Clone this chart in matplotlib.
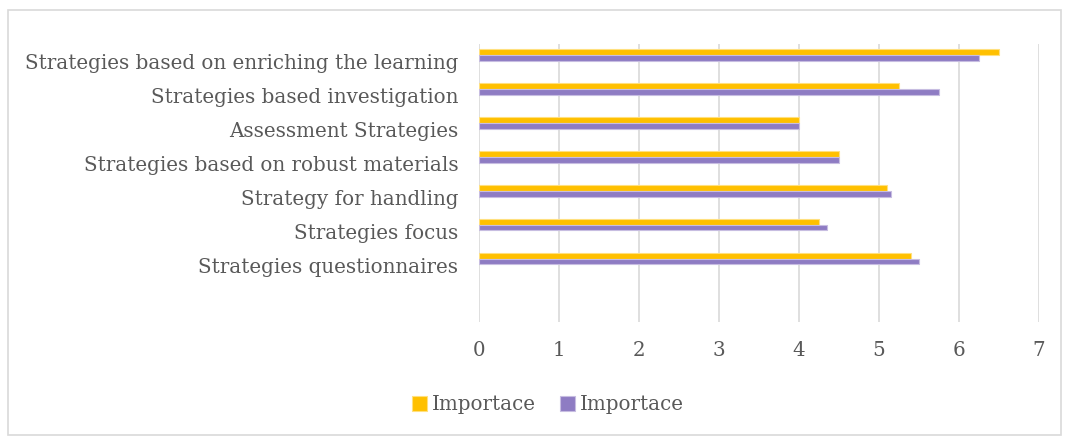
import numpy as np
import matplotlib
matplotlib.use("Agg")
import matplotlib.pyplot as plt
from matplotlib.patches import Rectangle

categories = ["Strategies based on enriching the learning",
              "Strategies based investigation",
              "Assessment Strategies",
              "Strategies based on robust materials",
              "Strategy for handling",
              "Strategies focus",
              "Strategies questionnaires"]
series_a = [6.5, 5.25, 4.0, 4.5, 5.1, 4.25, 5.4]
series_b = [6.25, 5.75, 4.0, 4.5, 5.15, 4.35, 5.5]
series_names = ["Importace", "Importace"]
xticks = [0, 1, 2, 3, 4, 5, 6, 7]

plt.rcParams['font.family'] = ['DejaVu Serif']
text_col = "#595959"
fs = 14.3

fig = plt.figure(figsize=(10.69, 4.43), dpi=100)
W, H = 1069, 443
ax = fig.add_axes([479 / W, 1 - 322 / H, (1039 - 479) / W, (322 - 44) / H])

y = np.arange(len(categories))
h = 0.17
ax.barh(y - h / 2, series_a, height=h, color="#FFC000", edgecolor="#FFE07F",
        linewidth=0.8, label=series_names[0], zorder=3)
ax.barh(y + h / 2, series_b, height=h, color="#8E7CC3", edgecolor="#C7BDE1",
        linewidth=0.8, label=series_names[1], zorder=3)

ax.set_xlim(0, 7)
ax.set_ylim(7.87, -0.33)
ax.set_xticks(xticks)
ax.set_yticks(y + 0.2)
ax.set_yticklabels(categories)
ax.tick_params(axis='both', length=0, labelsize=fs, colors=text_col)
ax.tick_params(axis='y', pad=15)
ax.tick_params(axis='x', pad=14)
ax.grid(axis='x', color="#D9D9D9", linewidth=1.2, zorder=0)
for s in ax.spines.values():
    s.set_visible(False)

leg = fig.legend(loc='center', bbox_to_anchor=(548 / W, 1 - 405 / H), ncol=2,
                 frameon=False, fontsize=fs, handlelength=0.75, handleheight=0.75,
                 handletextpad=0.25, columnspacing=1.2)
for t in leg.get_texts():
    t.set_color(text_col)

fig.patches.append(Rectangle((8 / W, 1 - 435 / H), (1061 - 8) / W, (435 - 10) / H,
                             transform=fig.transFigure, fill=False,
                             edgecolor="#D9D9D9", linewidth=1.2))

fig.savefig("out.png", dpi=100)
